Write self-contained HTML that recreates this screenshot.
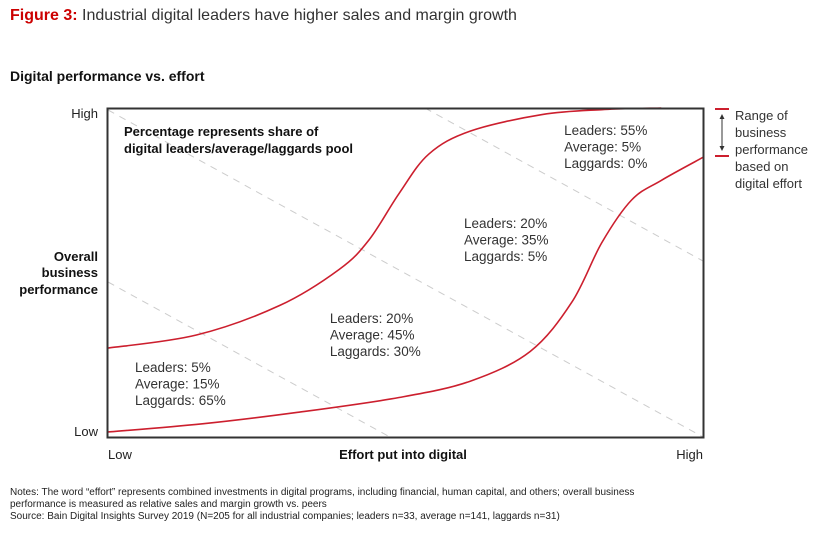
<!DOCTYPE html>
<html><head><meta charset="utf-8"><style>
body{margin:0;background:#fff;width:835px;height:538px;overflow:hidden;font-family:"Liberation Sans",sans-serif;}
svg text{font-family:"Liberation Sans",sans-serif;}
</style></head><body>
<svg width="835" height="538">
<text x="10" y="20" font-size="16" fill="#333"><tspan fill="#cc0000" font-weight="bold">Figure 3:</tspan> Industrial digital leaders have higher sales and margin growth</text>
<text x="10" y="81" font-size="14" font-weight="bold" fill="#111">Digital performance vs. effort</text>
<g id="dashes"></g>
<g id="curves"></g>
<rect x="107.5" y="108.5" width="596" height="329" fill="none" stroke="#333" stroke-width="2"/>
<text x="98" y="118" font-size="13" text-anchor="end" fill="#222">High</text>
<text x="98" y="436" font-size="13" text-anchor="end" fill="#222">Low</text>
<text x="108" y="459" font-size="13" fill="#222">Low</text>
<text x="703" y="459" font-size="13" text-anchor="end" fill="#222">High</text>
<text x="403" y="459" font-size="13" font-weight="bold" text-anchor="middle" fill="#111">Effort put into digital</text>
<g font-size="13" font-weight="bold" text-anchor="end" fill="#111">
<text x="98" y="261">Overall</text><text x="98" y="277">business</text><text x="98" y="294">performance</text></g>
<g font-size="13" font-weight="bold" fill="#111">
<text x="124" y="136">Percentage represents share of</text><text x="124" y="153">digital leaders/average/laggards pool</text></g>
<g id="labels" font-size="13.5" fill="#333"></g>
<line x1="715" y1="109" x2="729" y2="109" stroke="#cc1f2e" stroke-width="2"/>
<line x1="715" y1="156" x2="729" y2="156" stroke="#cc1f2e" stroke-width="2"/>
<line x1="722" y1="115" x2="722" y2="150" stroke="#333" stroke-width="1"/>
<path d="M719.5,119 L722,114 L724.5,119 Z M719.5,146 L722,151 L724.5,146 Z" fill="#333"/>
<g font-size="13" fill="#333">
<text x="735" y="120">Range of</text><text x="735" y="137">business</text><text x="735" y="154">performance</text><text x="735" y="171">based on</text><text x="735" y="188">digital effort</text></g>
<g font-size="10" fill="#222">
<text x="10" y="495">Notes: The word “effort” represents combined investments in digital programs, including financial, human capital, and others; overall business</text>
<text x="10" y="507">performance is measured as relative sales and margin growth vs. peers</text>
<text x="10" y="519">Source: Bain Digital Insights Survey 2019 (N=205 for all industrial companies; leaders n=33, average n=141, laggards n=31)</text></g>
</svg>
<script>
// effort (0-100) vs performance (0-100)
const upperX=[0,15,29,39,44,49,54,61,73,83,93];
const upperY=[27,31,40,51,60,74,86,93,98,99.5,100];
const lowerX=[0,16,32,49,61,71,78,83,88,93,100];
const lowerY=[1.5,4,7.5,12,17,26,41,59,72,78,85];
const zones=["Leaders: 5%|Average: 15%|Laggards: 65%","Leaders: 20%|Average: 45%|Laggards: 30%","Leaders: 20%|Average: 35%|Laggards: 5%","Leaders: 55%|Average: 5%|Laggards: 0%"];
const zoneX=[4.7,37.4,59.9,76.7];
const zoneY=[19.8,34.7,63.5,91.8];
const X0=107,X1=703,Y0=437,Y1=108;
const sx=v=>X0+(X1-X0)*v/100, sy=v=>Y0-(Y0-Y1)*v/100;
const ns="http://www.w3.org/2000/svg";
function curve(xs,ys,name){
  const p=xs.map((x,i)=>[sx(x),sy(ys[i])]);
  let d="M"+p[0][0]+","+p[0][1];
  for(let i=0;i<p.length-1;i++){
    const p0=p[i-1]||p[i],p1=p[i],p2=p[i+1],p3=p[i+2]||p2;
    d+=` C${p1[0]+(p2[0]-p0[0])/6},${p1[1]+(p2[1]-p0[1])/6} ${p2[0]-(p3[0]-p1[0])/6},${p2[1]-(p3[1]-p1[1])/6} ${p2[0]},${p2[1]}`;
  }
  const e=document.createElementNS(ns,"path");
  e.setAttribute("d",d);e.setAttribute("fill","none");e.setAttribute("stroke","#cc1f2e");e.setAttribute("stroke-width","1.6");
  
  
  document.getElementById("curves").appendChild(e);
}
curve(upperX,upperY,"upper-curve");curve(lowerX,lowerY,"lower-curve");
[[108,110,703,437],[425,108,703,261],[108,282,390,437]].forEach(l=>{
  const e=document.createElementNS(ns,"line");
  e.setAttribute("x1",l[0]);e.setAttribute("y1",l[1]);e.setAttribute("x2",l[2]);e.setAttribute("y2",l[3]);
  e.setAttribute("stroke","#ccc");e.setAttribute("stroke-dasharray","7,6");
  
  
  document.getElementById("dashes").appendChild(e);
});
zones.forEach((z,i)=>{
  const g=document.createElementNS(ns,"g");
  
  
  z.split("|").forEach((s,j)=>{
    const t=document.createElementNS(ns,"text");
    t.setAttribute("x",sx(zoneX[i]));t.setAttribute("y",sy(zoneY[i])+j*16.5);t.textContent=s;g.appendChild(t);
  });
  document.getElementById("labels").appendChild(g);
});
</script>
</body></html>
